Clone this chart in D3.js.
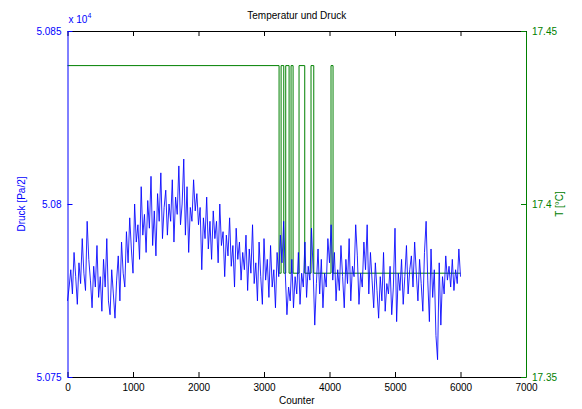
<!DOCTYPE html>
<html>
<head>
<meta charset="utf-8">
<script src="https://cdn.jsdelivr.net/npm/d3@7"></script>
<style>
  body { margin: 0; background: #fff; }
  svg { display: block; }
  text { font-family: Arial, "Liberation Sans", sans-serif; font-size: 10px; }
</style>
</head>
<body>
<svg id="chart" width="582" height="409"></svg>
<script>
// pressure samples (Pa/2), one every 25 counts from 0 to 6000
const pStep = 25
const druck = [
  50772, 50776, 50781, 50774, 50786, 50779, 50771, 50783, 50777, 50790,
  50780, 50775, 50795, 50784, 50778, 50770, 50782, 50776, 50788, 50773,
  50779, 50769, 50784, 50776, 50790, 50772, 50768, 50781, 50774, 50767,
  50778, 50785, 50772, 50789, 50780, 50776, 50792, 50783, 50796, 50787,
  50780, 50800, 50789, 50794, 50784, 50805, 50791, 50797, 50786, 50801,
  50793, 50808, 50788, 50798, 50785, 50803, 50795, 50809, 50790, 50799,
  50804, 50791, 50800, 50795, 50807, 50789, 50802, 50797, 50811, 50794,
  50800, 50813, 50791, 50805, 50786, 50799, 50795, 50807, 50798, 50803,
  50794, 50799, 50781, 50796, 50790, 50802, 50787, 50795, 50784, 50798,
  50790, 50795, 50783, 50800, 50788, 50792, 50779, 50791, 50785, 50796,
  50782, 50788, 50776, 50793, 50784, 50789, 50778, 50786, 50781, 50791,
  50775, 50787, 50780, 50794, 50777, 50783, 50772, 50789, 50779, 50771,
  50790, 50778, 50784, 50773, 50788, 50776, 50781, 50770, 50786, 50779,
  50791, 50783, 50795, 50780, 50768, 50776, 50772, 50784, 50770, 50779,
  50774, 50786, 50771, 50780, 50776, 50789, 50773, 50782, 50778, 50793,
  50781, 50765, 50777, 50787, 50774, 50784, 50770, 50780, 50776, 50790,
  50783, 50794, 50778, 50786, 50772, 50781, 50775, 50788, 50779, 50770,
  50784, 50777, 50790, 50772, 50782, 50779, 50794, 50785, 50771, 50780,
  50776, 50789, 50781, 50794, 50774, 50786, 50778, 50770, 50783, 50775,
  50767, 50779, 50772, 50786, 50769, 50777, 50774, 50782, 50768, 50776,
  50793, 50766, 50780, 50775, 50784, 50771, 50779, 50788, 50774, 50781,
  50785, 50776, 50789, 50780, 50772, 50784, 50777, 50769, 50786, 50795,
  50778, 50766, 50787, 50773, 50781, 50762, 50755, 50783, 50765, 50779,
  50774, 50785, 50778, 50782, 50776, 50784, 50775, 50781, 50777, 50787,
  50779
]

// temperature steps: counter where each level starts, and the level
const tStart = [0, 3230, 3261, 3302, 3332, 3383, 3413, 3444, 3535, 3622, 3718, 3760, 4023, 4054, 6000]
const tVal   = [17.44, 17.38, 17.44, 17.38, 17.44, 17.38, 17.44, 17.38, 17.44, 17.38, 17.44, 17.38, 17.44, 17.38, 17.38]

const xTicks = [0, 1000, 2000, 3000, 4000, 5000, 6000, 7000]
const pTicks = [50750, 50800, 50850]
const tTicks = [17.35, 17.4, 17.45]

const blue = '#0000ff'
const green = '#008000'
const m = { top: 31, right: 56, bottom: 32, left: 67.5 }
const W = 582, H = 409
const w = W - m.left - m.right
const h = H - m.top - m.bottom

const svg = d3.select('#chart')
const g = svg.append('g').attr('transform', `translate(${m.left},${m.top})`)

const x = d3.scaleLinear().domain([0, 7000]).range([0, w])
const yP = d3.scaleLinear().domain([50750, 50850]).range([h, 0])
const yT = d3.scaleLinear().domain([17.35, 17.45]).range([h, 0])

const pData = druck.map((v, i) => ({ c: i * pStep, v }))
const tData = tStart.map((c, i) => ({ c, v: tVal[i] }))

// green step line
g.append('path')
  .datum(tData)
  .attr('fill', 'none')
  .attr('stroke', green)
  .attr('stroke-width', 1)
  .attr('d', d3.line().x(d => x(d.c)).y(d => yT(d.v)).curve(d3.curveStepAfter))

// blue pressure line
g.append('path')
  .datum(pData)
  .attr('fill', 'none')
  .attr('stroke', blue)
  .attr('stroke-width', 1)
  .attr('stroke-opacity', 0.85)
  .attr('d', d3.line().x(d => x(d.c)).y(d => yP(d.v)))

// axes (MATLAB style, ticks inward)
const style = (sel, col) => {
  sel.select('.domain').attr('stroke', col)
  sel.selectAll('.tick line').attr('stroke', col)
  sel.selectAll('.tick text').attr('fill', col).style('font-size', '10px')
}

g.append('g')
  .attr('transform', `translate(0,${h})`)
  .call(d3.axisBottom(x).tickValues(xTicks).tickSize(-5).tickSizeOuter(0).tickPadding(7).tickFormat(d3.format('d')))
  .call(s => style(s, '#000'))

g.append('g')
  .call(d3.axisTop(x).tickValues(xTicks).tickSize(-5).tickSizeOuter(0).tickFormat(''))
  .call(s => style(s, '#000'))

g.append('g')
  .call(d3.axisLeft(yP).tickValues(pTicks).tickSize(-5).tickSizeOuter(0).tickPadding(6).tickFormat(d => d3.format('')(d / 1e4)))
  .call(s => style(s, blue))

g.append('g')
  .attr('transform', `translate(${w},0)`)
  .call(d3.axisRight(yT).tickValues(tTicks).tickSize(-5).tickSizeOuter(0).tickPadding(6).tickFormat(d3.format('')))
  .call(s => style(s, green))

// exponent label
const ex = svg.append('text').attr('x', m.left + 1).attr('y', 23).attr('fill', blue)
ex.append('tspan').text('x 10')
ex.append('tspan').attr('dy', -5).style('font-size', '7px').text('4')

svg.append('text')
  .attr('x', m.left + w / 2).attr('y', 19)
  .attr('text-anchor', 'middle')
  .text('Temperatur und Druck')

svg.append('text')
  .attr('x', m.left + w / 2).attr('y', 404)
  .attr('text-anchor', 'middle')
  .text('Counter')

svg.append('text')
  .attr('transform', `translate(25,${m.top + h / 2}) rotate(-90)`)
  .attr('text-anchor', 'middle')
  .attr('fill', blue)
  .text('Druck [Pa/2]')

svg.append('text')
  .attr('transform', `translate(563,${m.top + h / 2}) rotate(-90)`)
  .attr('text-anchor', 'middle')
  .attr('fill', green)
  .text('T [°C]')
</script>
</body>
</html>
